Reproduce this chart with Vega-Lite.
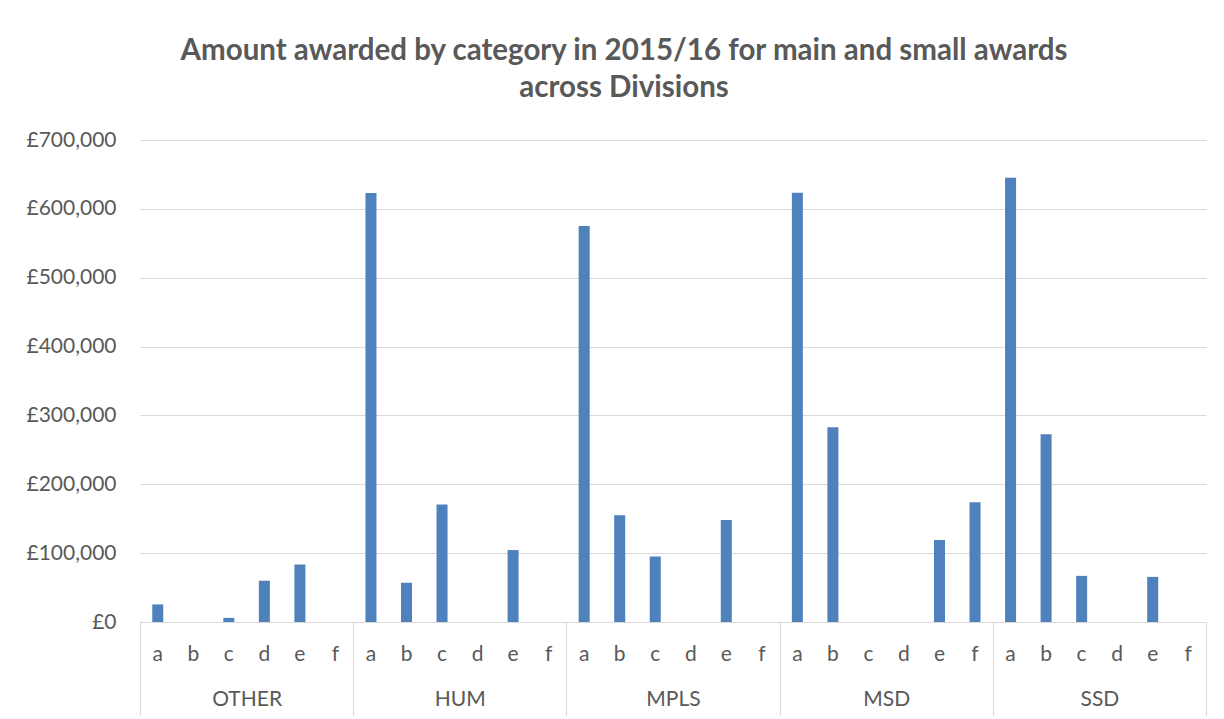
{
  "$schema": "https://vega.github.io/schema/vega-lite/v6.json",
  "autosize": {"type": "none"},
  "width": 1066,
  "height": 482,
  "padding": {"left": 140, "top": 140, "right": 18, "bottom": 97},
  "background": "white",
  "title": {
    "text": ["Amount awarded by category in 2015/16 for main and small awards", "across Divisions"],
    "font": "Lato",
    "fontSize": 29.5,
    "fontWeight": "bold",
    "color": "#595959",
    "anchor": "middle",
    "dx": -49,
    "offset": 26,
    "lineHeight": 37
  },
  "config": {
    "view": {"stroke": null},
    "axis": {"labelFont": "Lato", "labelColor": "#595959", "labelFontSize": 21}
  },
  "data": {
    "values": [
      {"division": "OTHER", "category": "a", "amount": 25500},
      {"division": "OTHER", "category": "b", "amount": 0},
      {"division": "OTHER", "category": "c", "amount": 6000},
      {"division": "OTHER", "category": "d", "amount": 60000},
      {"division": "OTHER", "category": "e", "amount": 83500},
      {"division": "OTHER", "category": "f", "amount": 0},
      {"division": "HUM", "category": "a", "amount": 623000},
      {"division": "HUM", "category": "b", "amount": 57000},
      {"division": "HUM", "category": "c", "amount": 170500},
      {"division": "HUM", "category": "d", "amount": 0},
      {"division": "HUM", "category": "e", "amount": 104500},
      {"division": "HUM", "category": "f", "amount": 0},
      {"division": "MPLS", "category": "a", "amount": 575000},
      {"division": "MPLS", "category": "b", "amount": 155000},
      {"division": "MPLS", "category": "c", "amount": 95000},
      {"division": "MPLS", "category": "d", "amount": 0},
      {"division": "MPLS", "category": "e", "amount": 148000},
      {"division": "MPLS", "category": "f", "amount": 0},
      {"division": "MSD", "category": "a", "amount": 623500},
      {"division": "MSD", "category": "b", "amount": 283000},
      {"division": "MSD", "category": "c", "amount": 0},
      {"division": "MSD", "category": "d", "amount": 0},
      {"division": "MSD", "category": "e", "amount": 119000},
      {"division": "MSD", "category": "f", "amount": 174000},
      {"division": "SSD", "category": "a", "amount": 645000},
      {"division": "SSD", "category": "b", "amount": 272500},
      {"division": "SSD", "category": "c", "amount": 67000},
      {"division": "SSD", "category": "d", "amount": 0},
      {"division": "SSD", "category": "e", "amount": 65500},
      {"division": "SSD", "category": "f", "amount": 0}
    ]
  },
  "encoding": {
    "x": {
      "field": "division",
      "type": "nominal",
      "sort": ["OTHER", "HUM", "MPLS", "MSD", "SSD"],
      "scale": {"paddingInner": 0, "paddingOuter": 0},
      "axis": {
        "title": null,
        "labelAngle": 0,
        "tickBand": "extent",
        "tickSize": 93,
        "tickColor": "#D9D9D9",
        "tickWidth": 1,
        "domainColor": "#D9D9D9",
        "domainWidth": 1,
        "labelPadding": -27,
        "labelBaseline": "top"
      }
    },
    "xOffset": {
      "field": "category",
      "type": "nominal",
      "sort": ["a", "b", "c", "d", "e", "f"],
      "scale": {"paddingInner": 0.69, "paddingOuter": 0.345}
    }
  },
  "layer": [
    {
      "mark": {"type": "bar", "color": "#4F81BD"},
      "encoding": {
        "y": {
          "field": "amount",
          "type": "quantitative",
          "scale": {"domain": [0, 700000], "nice": false},
          "axis": {
            "title": null,
            "values": [0, 100000, 200000, 300000, 400000, 500000, 600000, 700000],
            "labelExpr": "'£' + format(datum.value, ',')",
            "domain": false,
            "ticks": false,
            "grid": true,
            "gridColor": "#D9D9D9",
            "gridWidth": 1.2,
            "labelPadding": 24
          }
        }
      }
    },
    {
      "mark": {"type": "text", "baseline": "middle", "dy": 33, "font": "Lato", "fontSize": 21, "color": "#595959"},
      "encoding": {
        "y": {"datum": 0},
        "text": {"field": "category"}
      }
    }
  ]
}
